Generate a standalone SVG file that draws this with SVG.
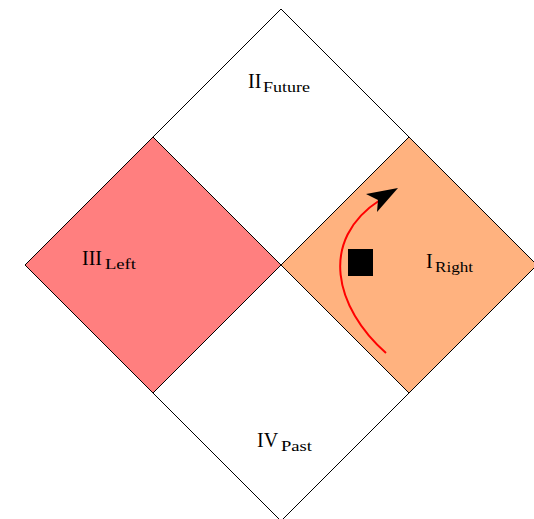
<svg xmlns="http://www.w3.org/2000/svg" width="534" height="519" viewBox="0 0 534 519">
  <style>
    .edge { fill: none; stroke: #000; stroke-width: 1; stroke-linejoin: miter; }
    .red-zone { fill: #ff7f7f; stroke: #000; stroke-width: 1; }
    .orange-zone { fill: #ffb27f; stroke: #000; stroke-width: 1; }
    .lbl { font-family: "Liberation Serif", "DejaVu Serif", serif; fill: #000; }
    .main { font-size: 20px; }
    .sub { font-size: 14px; }
    .world { fill: none; stroke: #ff0000; stroke-width: 2; }
    .head { fill: #000; stroke: none; }
  </style>
  <rect width="534" height="519" fill="#fff"/>

  <!-- Region II: future interior -->
  <g id="region-future">
    <path class="edge" d="M153,137 L281,9 L409,137"/>
    <text class="lbl main" x="248" y="88">II</text>
    <text class="lbl sub" x="263" y="92" textLength="47" lengthAdjust="spacingAndGlyphs">Future</text>
  </g>

  <!-- Region III: left exterior -->
  <g id="region-left">
    <path class="red-zone" d="M153,137 L281,265 L153,393 L25,265 Z"/>
    <text class="lbl main" x="82" y="265">III</text>
    <text class="lbl sub" x="105" y="269" textLength="31" lengthAdjust="spacingAndGlyphs">Left</text>
  </g>

  <!-- Region I: right exterior -->
  <g id="region-right">
    <path class="orange-zone" d="M409,137 L537,265 L409,393 L281,265 Z"/>
    <rect x="348" y="249" width="25" height="27" fill="#000"/>
    <text class="lbl main" x="426" y="267.5">I</text>
    <text class="lbl sub" x="435" y="271.5" textLength="38" lengthAdjust="spacingAndGlyphs">Right</text>
  </g>

  <!-- Region IV: past interior -->
  <g id="region-past">
    <path class="edge" d="M153,393 L281,521 L409,393"/>
    <text class="lbl main" x="257" y="447">IV</text>
    <text class="lbl sub" x="281" y="451" textLength="31" lengthAdjust="spacingAndGlyphs">Past</text>
  </g>

  <!-- Connectors: timelike worldline in region I with stealth head -->
  <g id="connectors">
    <path class="world" d="M386,353 C335,308 318,240 380,200"/>
    <path class="head" d="M398,188 L366,194 L378,200 L377,212 Z"/>
  </g>
</svg>
